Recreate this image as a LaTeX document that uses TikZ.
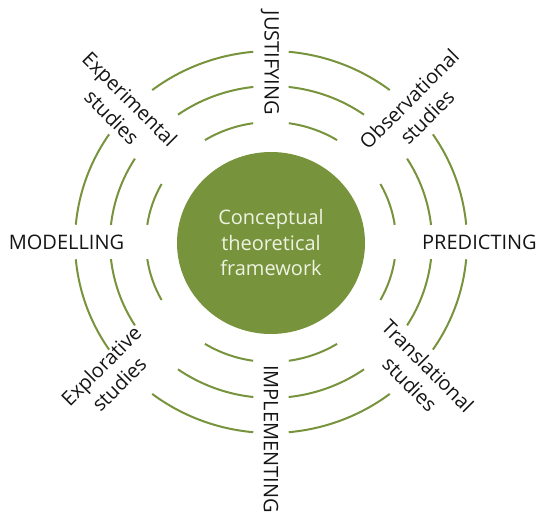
\documentclass[tikz,border=0pt]{standalone}
\usepackage{fontspec}
\setmainfont{Open Sans}
\usetikzlibrary{shapes.geometric}
\definecolor{fwgreen}{HTML}{77933C}
\definecolor{fwtext}{HTML}{EEF3E2}
\definecolor{labelgray}{HTML}{151515}
\begin{document}
\begin{tikzpicture}[x=1pt, y=1pt,
  font=\fontsize{20}{25.5}\selectfont,
  hub/.style={ellipse, fill=fwgreen, text=fwtext, align=center,
              minimum width=188pt, minimum height=182pt, inner sep=0pt},
  ring/.style={draw=fwgreen, line width=2pt},
  phase/.style={text=labelgray, inner sep=0pt},
  study/.style={text=labelgray, align=center, inner sep=0pt}
]
  \useasboundingbox (-271,-290) rectangle (271,242);

  % --- Framework (centre) ---
  \node[hub] (hub) at (0,-1) {Conceptual\\theoretical\\framework};

  % --- Rings, broken at the labels ---
  \foreach \a/\b in {8.2/28.9, 58.1/81.8, 98.2/121.9, 151.1/171.8,
                     188.2/208.9, 238.1/261.8, 278.2/301.9, 331.1/351.8}
    \draw[ring] (\a:125pt and 120pt)
      arc[start angle=\a, end angle=\b, x radius=125pt, y radius=120pt];
  \foreach \a/\b in {6.3/32.3, 54.7/83.7, 96.3/125.3, 147.7/173.7,
                     186.3/212.3, 234.7/263.7, 276.3/305.3, 327.7/353.7}
    \draw[ring] (\a:161pt and 156pt)
      arc[start angle=\a, end angle=\b, x radius=161pt, y radius=156pt];
  \foreach \a/\b in {5.2/34.3, 52.7/84.8, 95.2/127.3, 145.7/174.8,
                     185.2/214.3, 232.7/264.8, 275.2/307.3, 325.7/354.8}
    \draw[ring] (\a:196pt and 191pt)
      arc[start angle=\a, end angle=\b, x radius=196pt, y radius=191pt];

  % --- Phases (axes) ---
  \node[phase, rotate=-90] (justif) at (-1,179)   {JUSTIFYING};
  \node[phase, rotate=-90] (implem) at (0,-197)   {IMPLEMENTING};
  \node[phase]             (model)  at (-204.5,0) {MODELLING};
  \node[phase]             (pred)   at (208.5,0)  {PREDICTING};

  % --- Studies (diagonals) ---
  \node[study, rotate=-45] (exper)  at (-150,134)  {Experimental\\studies};
  \node[study, rotate=45]  (obser)  at (147,134)   {Observational\\studies};
  \node[study, rotate=45]  (explo)  at (-161,-133) {Explorative\\studies};
  \node[study, rotate=-45] (transl) at (148,-133)  {Translational\\studies};
\end{tikzpicture}
\end{document}
